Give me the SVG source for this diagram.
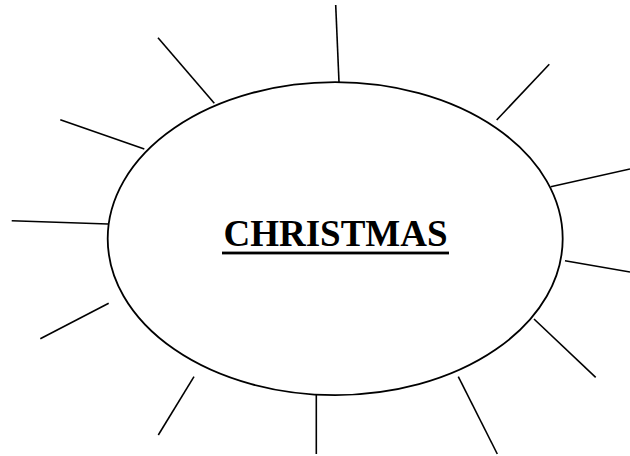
<svg xmlns="http://www.w3.org/2000/svg" width="630" height="456" viewBox="0 0 630 456">
<style>
.ray{stroke:#000;stroke-width:1.6;fill:none}
.oval{stroke:#000;stroke-width:1.8;fill:#fff}
.title{font-family:"Liberation Serif","Times New Roman",serif;font-weight:bold;font-size:37px;fill:#000}
</style>
<rect width="630" height="456" fill="#fff"/>
<g id="connectors">
<line class="ray" x1="335.7" y1="5" x2="339" y2="82"/>
<line class="ray" x1="549.3" y1="64.3" x2="496.7" y2="120"/>
<line class="ray" x1="630" y1="169" x2="550.7" y2="186.7"/>
<line class="ray" x1="565" y1="260.7" x2="630" y2="272"/>
<line class="ray" x1="534" y1="319" x2="595.7" y2="377.3"/>
<line class="ray" x1="458.3" y1="376.7" x2="497.3" y2="454"/>
<line class="ray" x1="316.3" y1="395" x2="316.3" y2="454"/>
<line class="ray" x1="194" y1="376.7" x2="158.3" y2="435"/>
<line class="ray" x1="108.7" y1="303.3" x2="40.3" y2="338.7"/>
<line class="ray" x1="11.7" y1="220.7" x2="108" y2="224"/>
<line class="ray" x1="60.3" y1="119.7" x2="144.3" y2="149"/>
<line class="ray" x1="158" y1="37.7" x2="214.3" y2="103.3"/>
</g>
<g id="christmas">
<ellipse class="oval" cx="335.2" cy="238.7" rx="227.5" ry="156.5"/>
<text class="title" x="335.5" y="245.7" text-anchor="middle">CHRISTMAS</text>
<rect x="222" y="251.6" width="227" height="2.8" fill="#000"/>
</g>
</svg>
